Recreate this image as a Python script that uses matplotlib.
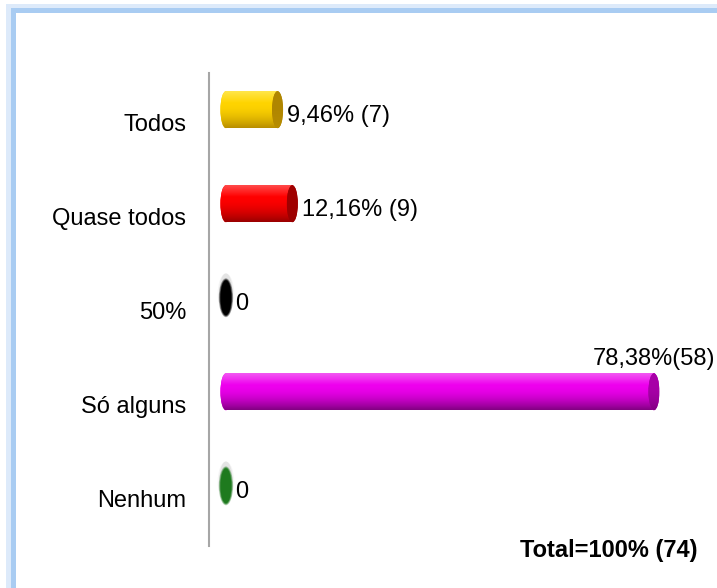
import matplotlib
matplotlib.use('Agg')
import matplotlib.pyplot as plt
import numpy as np
import matplotlib.colors as mcolors
from matplotlib.patches import Ellipse, Rectangle
from matplotlib.transforms import ScaledTranslation

# ---- data ----
categories = ['Todos', 'Quase todos', '50%', 'Só alguns', 'Nenhum']
percentages = [9.46, 12.16, 0, 78.38, 0]
value_labels = ['9,46% (7)', '12,16% (9)', '0', '78,38%(58)', '0']
total_label = 'Total=100% (74)'

# ---- styles ----
col_top = ['#FFE64A', '#FF4A4A', '#303030', '#F258F2', '#2E8A2E']
col_mid = ['#FFD400', '#FF0000', '#000000', '#EE00EE', '#1E7A1E']
col_bot = ['#B88E00', '#9A0000', '#000000', '#820082', '#145214']
col_cap = ['#B08600', '#A00000', '#000000', '#A800A8', '#1E7A1E']

plt.rcParams['font.family'] = ['Liberation Sans', 'DejaVu Sans']

W, H = 717, 588
fig = plt.figure(figsize=(W / 100, H / 100), dpi=100)
fig.patch.set_facecolor('white')

# frame (light blue border with soft glow)
px = 72.0 / 100.0
fig.add_artist(Rectangle((10.0 / W, -0.2), 2.0, (H - 8.0) / H + 0.2, transform=fig.transFigure,
                         fill=False, edgecolor='#CFE2F8', linewidth=9 * px, alpha=0.7))
fig.add_artist(Rectangle((12.5 / W, -0.2), 2.0, (H - 10) / H + 0.2, transform=fig.transFigure,
                         fill=False, edgecolor='#A9CCF2', linewidth=5 * px))

ax_left, ax_right, ax_top, ax_bottom = 209, 701, 73, 546
ax = fig.add_axes([ax_left / W, (H - ax_bottom) / H, (ax_right - ax_left) / W, (ax_bottom - ax_top) / H])
ax.set_facecolor('none')

n = len(categories)
ypos = np.arange(n)[::-1]
xlim = (-3.1, 87)
ylim = (-0.64, 4.39)
ax.set_xlim(*xlim)
ax.set_ylim(*ylim)

x_per_px = (xlim[1] - xlim[0]) / (ax_right - ax_left)
y_per_px = (ylim[1] - ylim[0]) / (ax_bottom - ax_top)
bar_h = 37 * y_per_px
cap_w = 11 * x_per_px


def grad(top, mid, bot, k=80):
    t = np.linspace(0, 1, k)
    a, b, c = [np.array(mcolors.to_rgb(x)) for x in (top, mid, bot)]
    rows = []
    for tt in t:
        if tt < 0.32:
            rows.append(a + (b - a) * (tt / 0.32))
        else:
            s = ((tt - 0.32) / 0.68) ** 1.8
            rows.append(b + (c - b) * s)
    return np.clip(np.array(rows).reshape(k, 1, 3), 0, 1)


bars = ax.barh(ypos, percentages, height=bar_h, left=0, color=col_mid, linewidth=0, zorder=2)

for i, (v, y) in enumerate(zip(percentages, ypos)):
    g = grad(col_top[i], col_mid[i], col_bot[i])
    if v > 0:
        # body
        im = ax.imshow(g, extent=(0, v, y - bar_h / 2, y + bar_h / 2), aspect='auto',
                       interpolation='bilinear', zorder=2.1)
        im.set_clip_path(bars[i])
        # rounded left end
        le = Ellipse((0, y), cap_w, bar_h, facecolor=col_mid[i], edgecolor='none', zorder=2)
        ax.add_patch(le)
        im2 = ax.imshow(g, extent=(-cap_w / 2, cap_w / 2, y - bar_h / 2, y + bar_h / 2), aspect='auto',
                        interpolation='bilinear', zorder=2.1)
        im2.set_clip_path(le)
        # end cap
        cg = grad(col_cap[i], col_cap[i], col_bot[i])
        ce = Ellipse((v, y), cap_w, bar_h, facecolor=col_cap[i], edgecolor='none', zorder=3)
        ax.add_patch(ce)
        im3 = ax.imshow(cg, extent=(v - cap_w / 2, v + cap_w / 2, y - bar_h / 2, y + bar_h / 2),
                        aspect='auto', interpolation='bilinear', zorder=3.1)
        im3.set_clip_path(ce)
    else:
        # zero value: only the face of the cylinder, soft-edged, with a faint shadow
        for k, a in [(1.5, 0.08), (1.25, 0.14)]:
            ax.add_patch(Ellipse((0, y + 4 * y_per_px), cap_w * k, bar_h * 1.1, facecolor='#808080',
                                 edgecolor='none', alpha=a, zorder=2))
        for k, a in [(1.3, 0.35), (1.15, 0.6), (1.0, 1.0)]:
            ax.add_patch(Ellipse((0, y), cap_w * k, bar_h * (0.95 + 0.1 * (k - 1.0) / 0.3),
                                 facecolor=col_cap[i], edgecolor='none', alpha=a, zorder=3))

# value labels
for v, y, lbl in zip(percentages, ypos, value_labels):
    if v > 50:
        ax.annotate(lbl, (v, y), xytext=(0, 33 * px), textcoords='offset points',
                    ha='center', va='center', fontsize=17, color='black', zorder=5)
    else:
        ax.annotate(lbl, (v, y), xytext=(9.5 * px, -6 * px), textcoords='offset points',
                    ha='left', va='center', fontsize=17, color='black', zorder=5)

# axes styling
for s in ['top', 'right', 'bottom']:
    ax.spines[s].set_visible(False)
ax.spines['left'].set_color('#A6A6A6')
ax.spines['left'].set_linewidth(1.5)
ax.set_xticks([])
ax.set_yticks(ypos)
ax.set_yticklabels(categories)
ax.tick_params(axis='y', length=0, pad=16.5, labelsize=17, labelcolor='black')
off = ScaledTranslation(0, -13 / 100, fig.dpi_scale_trans)
for lab in ax.get_yticklabels():
    lab.set_transform(lab.get_transform() + off)

ax.set_xlim(*xlim)
ax.set_ylim(*ylim)

fig.text(697 / W, 1 - 551 / H, total_label, ha='right', va='center', fontsize=17,
         fontweight='bold', color='black')

fig.savefig('out.png', dpi=100)
